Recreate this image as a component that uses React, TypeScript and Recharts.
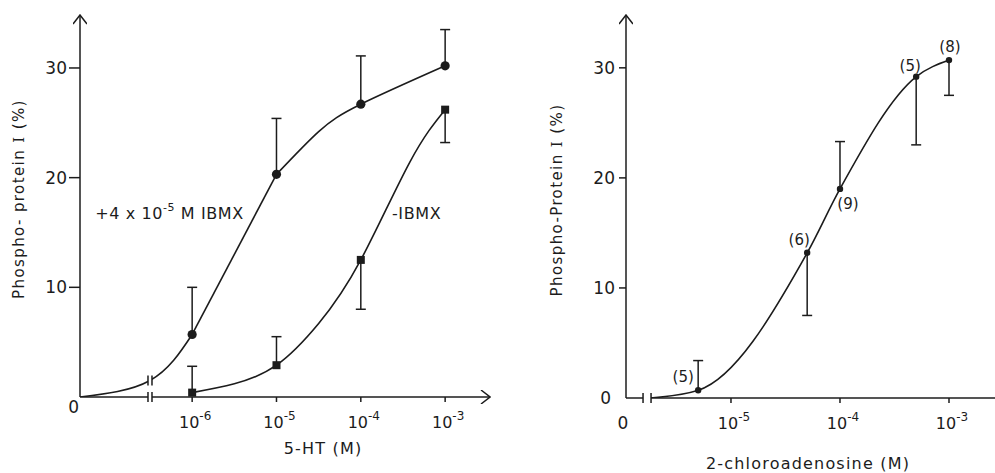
import React from 'react';
import { ComposedChart, Line, Scatter, XAxis, YAxis, ErrorBar, ReferenceDot, Label } from 'recharts';

const FONT = '"DejaVu Sans", sans-serif';
const INK = '#1c1c1c';

// ---- left panel: 5-HT ----
const htConc = [1e-6, 1e-5, 1e-4, 1e-3];
const htTicks = [-6, -5, -4, -3];
const ibmxValues = [5.7, 20.3, 26.7, 30.2];
const ibmxErrUp = [4.3, 5.1, 4.4, 3.3];
const ibmxErrDown = [0, 0, 0, 0];
const noIbmxValues = [0.4, 2.9, 12.5, 26.2];
const noIbmxErrUp = [2.4, 2.6, 0, 0];
const noIbmxErrDown = [0, 0, 4.5, 3.0];
// hand-drawn fitted curves (x = log10 M)
// +IBMX curve is drawn in three pieces: foot, straight rise, shoulder
const ibmxFootX = [-7.33, -6.5, -6];
const ibmxFootY = [0, 1.5, 5.7];
const ibmxRiseX = [-6, -5];
const ibmxRiseY = [5.7, 20.3];
const ibmxTopX = [-5, -4.5, -4, -3];
const ibmxTopY = [20.3, 24.2, 26.7, 30.2];
const noIbmxFitX = [-6, -5.5, -5, -4.5, -4, -3.42, -3];
const noIbmxFitY = [0.4, 1.2, 2.9, 6.7, 12.5, 21.4, 26.2];
const htBreak = -6.5;

// ---- right panel: 2-chloroadenosine ----
const chloroConc = [5e-6, 5e-5, 1e-4, 5e-4, 1e-3];
const chloroTicks = [-5.963, -5, -4, -3];
const chloroValues = [0.7, 13.2, 19.0, 29.2, 30.7];
const chloroErrUp = [2.7, 0, 4.3, 0, 0];
const chloroErrDown = [0, 5.7, 0, 6.2, 3.2];
const chloroN = [5, 6, 9, 5, 8];
const chloroFitX = [-5.74, -5.3, -4.3, -4, -3.3, -3];
const chloroFitY = [0, 0.7, 13.2, 19.0, 29.2, 30.7];
const chloroBreak = -5.77;

const yTicks = [0, 10, 20, 30];

// label placement for the (n) numbers
const nLabelDx = [-15, -8, 8, -6, 1];
const nLabelDy = [-8, -8, 20, -6, -8];

const toPoints = (conc: number[], vals: number[], up: number[], down: number[]) =>
  conc.map((c, i) => ({ x: Math.log10(c), y: vals[i], err: [down[i], up[i]], i }));

const toCaps = (pts: { x: number; y: number; err: number[] }[]) => {
  const out: { x: number; y: number }[] = [];
  pts.forEach((p) => {
    if (p.err[1] > 0) out.push({ x: p.x, y: p.y + p.err[1] });
    if (p.err[0] > 0) out.push({ x: p.x, y: p.y - p.err[0] });
  });
  return out;
};

const toCurve = (xs: number[], ys: number[]) => xs.map((x, i) => ({ x, y: ys[i] }));

const ibmxPts = toPoints(htConc, ibmxValues, ibmxErrUp, ibmxErrDown);
const noIbmxPts = toPoints(htConc, noIbmxValues, noIbmxErrUp, noIbmxErrDown);
const chloroPts = toPoints(chloroConc, chloroValues, chloroErrUp, chloroErrDown);

const Circle = (r: number) => (p: any) => <circle cx={p.cx} cy={p.cy} r={r} fill={INK} />;
const Square = (p: any) => <rect x={p.cx - 4} y={p.cy - 4} width={8} height={8} fill={INK} />;
const Cap = (p: any) => (
  <line x1={p.cx - 5} x2={p.cx + 5} y1={p.cy} y2={p.cy} stroke={INK} strokeWidth={1.5} />
);

const ChloroDot = (p: any) => {
  const i = p.payload?.i ?? 0;
  return (
    <g>
      <circle cx={p.cx} cy={p.cy} r={3.2} fill={INK} />
      <text
        x={p.cx + nLabelDx[i]}
        y={p.cy + nLabelDy[i]}
        textAnchor="middle"
        fontSize={15}
        fontFamily={FONT}
        fill={INK}
      >
        ({chloroN[i]})
      </text>
    </g>
  );
};

const Break = (gap: number) => (p: any) => (
  <g>
    <rect x={p.cx - gap / 2} y={p.cy - 3} width={gap} height={6} fill="#fff" />
    <line x1={p.cx - gap / 2} x2={p.cx - gap / 2} y1={p.cy - 5} y2={p.cy + 5} stroke={INK} strokeWidth={1.5} />
    <line x1={p.cx + gap / 2} x2={p.cx + gap / 2} y1={p.cy - 5} y2={p.cy + 5} stroke={INK} strokeWidth={1.5} />
  </g>
);

const makeYTick = (markLen: number, gap: number, zeroDx: number, zeroDy: number) => (props: any) => {
  const { x, y, payload } = props;
  const v = payload.value;
  const txt = { fontSize: 17, fontFamily: FONT, fill: INK, textAnchor: 'end' as const };
  if (v === 0) {
    return (
      <text x={x - zeroDx} y={y + zeroDy} {...txt}>
        0
      </text>
    );
  }
  return (
    <g>
      <line x1={x - markLen} x2={x} y1={y} y2={y} stroke={INK} strokeWidth={1.5} />
      <text x={x - markLen - gap} y={y + 6} {...txt}>
        {v}
      </text>
    </g>
  );
};

const PowTick = (props: any) => {
  const { x, y, payload } = props;
  const v = payload.value;
  if (!Number.isInteger(v)) {
    return (
      <text x={x - 3} y={y + 31} textAnchor="middle" fontSize={17} fontFamily={FONT} fill={INK}>
        0
      </text>
    );
  }
  return (
    <g>
      <line x1={x} x2={x} y1={y} y2={y + 5} stroke={INK} strokeWidth={1.5} />
      <text x={x + 3} y={y + 31} textAnchor="middle" fontSize={16} fontFamily={FONT} fill={INK}>
        10
        <tspan dy={-8} fontSize={12}>
          {v}
        </tspan>
      </text>
    </g>
  );
};

const yTitle = (text: string, cx: number, cy: number) => () => (
  <text
    x={cx}
    y={cy}
    transform={`rotate(-90 ${cx} ${cy})`}
    textAnchor="middle"
    dominantBaseline="central"
    fontSize={15}
    letterSpacing={1.4}
    fontFamily={FONT}
    fill={INK}
  >
    {text}
    <tspan fontFamily='"DejaVu Serif", serif'> I </tspan>
    (%)
  </text>
);

const xTitle = (text: string, dx: number, dy: number) => (props: any) => {
  const vb = props.viewBox;
  return (
    <text
      x={vb.x + dx}
      y={vb.y + dy}
      textAnchor="middle"
      fontSize={16}
      letterSpacing={1.2}
      fontFamily={FONT}
      fill={INK}
    >
      {text}
    </text>
  );
};

const ibmxNote = (p: any) => (
  <text x={p.cx} y={p.cy} fontSize={16} fontFamily={FONT} fill={INK} letterSpacing={0.6}>
    +4 x 10
    <tspan dy={-8} fontSize={11}>
      -5
    </tspan>
    <tspan dy={8}> M IBMX</tspan>
  </text>
);
const noIbmxNote = (p: any) => (
  <text x={p.cx} y={p.cy} fontSize={16} fontFamily={FONT} fill={INK} letterSpacing={0.6}>
    -IBMX
  </text>
);

const axisStyle = { stroke: INK, strokeWidth: 1.5 };
const curveProps = { dataKey: 'y', stroke: INK, strokeWidth: 1.6, dot: false, isAnimationActive: false };

export default function App() {
  return (
    <div style={{ position: 'absolute', left: 0, top: 0, width: 995, height: 473, background: '#fff' }}>
      <svg width={0} height={0} style={{ position: 'absolute' }}>
        <defs>
          <marker
            id="arrowHead"
            viewBox="0 0 14 14"
            refX={13}
            refY={7}
            markerWidth={14}
            markerHeight={14}
            markerUnits="userSpaceOnUse"
            orient="auto-start-reverse"
          >
            <path d="M4,0 L13,7 L4,14" fill="none" stroke={INK} strokeWidth={1.5} />
          </marker>
        </defs>
      </svg>

      <div style={{ position: 'absolute', left: 0, top: 0 }}>
        <ComposedChart width={500} height={473} margin={{ top: 15, right: 10, bottom: 16, left: 0 }}>
          <XAxis
            type="number"
            dataKey="x"
            domain={[-7.33, -2.468]}
            ticks={htTicks}
            tick={PowTick}
            tickLine={false}
            tickSize={0}
            tickMargin={0}
            height={60}
            axisLine={{ ...axisStyle, markerEnd: 'url(#arrowHead)' }}
            allowDataOverflow
          >
            <Label content={xTitle('5-HT (M)', 243, 57)} />
          </XAxis>
          <YAxis
            type="number"
            dataKey="y"
            domain={[0, 34.83]}
            ticks={yTicks}
            tick={makeYTick(11, 2, 1, 16)}
            tickLine={false}
            tickSize={0}
            tickMargin={0}
            width={80}
            axisLine={{ ...axisStyle, markerStart: 'url(#arrowHead)' }}
            allowDataOverflow
          >
            <Label content={yTitle('Phospho- protein', 19, 199)} />
          </YAxis>
          <Line data={toCurve(ibmxFootX, ibmxFootY)} type="natural" {...curveProps} />
          <Line data={toCurve(ibmxRiseX, ibmxRiseY)} type="linear" {...curveProps} />
          <Line data={toCurve(ibmxTopX, ibmxTopY)} type="natural" {...curveProps} />
          <Line data={toCurve(noIbmxFitX, noIbmxFitY)} type="natural" {...curveProps} />
          <Scatter data={ibmxPts} dataKey="y" shape={Circle(4.6)} isAnimationActive={false}>
            <ErrorBar dataKey="err" direction="y" width={0} stroke={INK} strokeWidth={1.5} />
          </Scatter>
          <Scatter data={noIbmxPts} dataKey="y" shape={Square} isAnimationActive={false}>
            <ErrorBar dataKey="err" direction="y" width={0} stroke={INK} strokeWidth={1.5} />
          </Scatter>
          <Scatter data={toCaps(ibmxPts)} dataKey="y" shape={Cap} isAnimationActive={false} />
          <Scatter data={toCaps(noIbmxPts)} dataKey="y" shape={Cap} isAnimationActive={false} />
          <ReferenceDot x={htBreak} y={0} shape={Break(4)} ifOverflow="visible" />
          <ReferenceDot x={htBreak} y={ibmxFootY[1]} shape={Break(4)} ifOverflow="visible" />
          <ReferenceDot x={-7.15} y={16.2} shape={ibmxNote} ifOverflow="visible" />
          <ReferenceDot x={-3.63} y={16.2} shape={noIbmxNote} ifOverflow="visible" />
        </ComposedChart>
      </div>

      <div style={{ position: 'absolute', left: 500, top: 0 }}>
        <ComposedChart width={495} height={473} margin={{ top: 15, right: 0, bottom: 15, left: 0 }}>
          <XAxis
            type="number"
            dataKey="x"
            domain={[-5.963, -2.578]}
            ticks={chloroTicks}
            tick={PowTick}
            tickLine={false}
            tickSize={0}
            tickMargin={0}
            height={60}
            axisLine={axisStyle}
            allowDataOverflow
          >
            <Label content={xTitle('2-chloroadenosine (M)', 182, 71)} />
          </XAxis>
          <YAxis
            type="number"
            dataKey="y"
            domain={[0, 34.8]}
            ticks={yTicks}
            tick={makeYTick(7, 4, 15, 6)}
            tickLine={false}
            tickSize={0}
            tickMargin={0}
            width={126}
            axisLine={{ ...axisStyle, markerStart: 'url(#arrowHead)' }}
            allowDataOverflow
          >
            <Label content={yTitle('Phospho-Protein', 57, 200)} />
          </YAxis>
          <Line data={toCurve(chloroFitX, chloroFitY)} type="monotone" {...curveProps} />
          <Scatter data={chloroPts} dataKey="y" shape={ChloroDot} isAnimationActive={false}>
            <ErrorBar dataKey="err" direction="y" width={0} stroke={INK} strokeWidth={1.5} />
          </Scatter>
          <Scatter data={toCaps(chloroPts)} dataKey="y" shape={Cap} isAnimationActive={false} />
          <ReferenceDot x={chloroBreak} y={0} shape={Break(8)} ifOverflow="visible" />
        </ComposedChart>
      </div>
    </div>
  );
}
